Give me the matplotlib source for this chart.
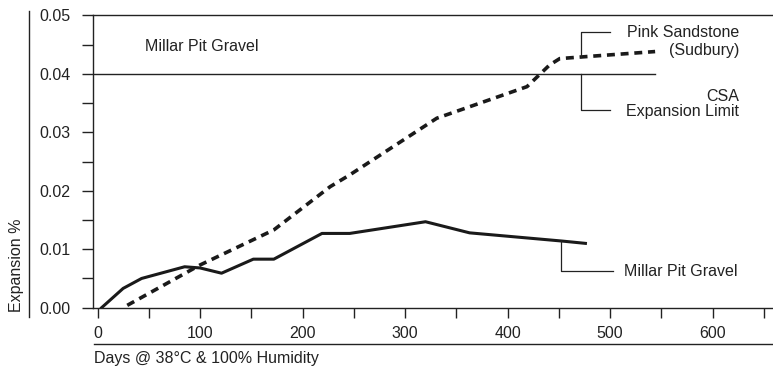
import numpy as np
import matplotlib
matplotlib.use("Agg")
import matplotlib.pyplot as plt
from matplotlib.lines import Line2D

plt.rcParams['font.family'] = ['Liberation Sans', 'DejaVu Sans']

# Data
millar_days = [4, 25, 43, 85, 100, 121, 152, 172, 219, 246, 320, 363, 453, 476]
millar_exp = [0.0, 0.0033, 0.0050, 0.0070, 0.0068, 0.0059, 0.0083, 0.0083, 0.0127, 0.0127, 0.0147, 0.0128, 0.0114, 0.0110]

pink_days = [29, 100, 172, 227, 246, 331, 419, 441, 451, 474, 544]
pink_exp = [0.0004, 0.0073, 0.0133, 0.0207, 0.0227, 0.0324, 0.0378, 0.0415, 0.0426, 0.0429, 0.0438]

csa_limit = 0.04
csa_end_day = 544

x_major = [0, 100, 200, 300, 400, 500, 600]
x_labels = ['0', '100', '200', '300', '400', '500', '600']
y_major = [0.00, 0.01, 0.02, 0.03, 0.04, 0.05]
y_labels = ['0.00', '0.01', '0.02', '0.03', '0.04', '0.05']

W, H = 773, 366
fig = plt.figure(figsize=(W / 100, H / 100), dpi=100)
ax = fig.add_axes([93 / W, (H - 307.7) / H, (W - 93) / W, (307.7 - 15.3) / H])

fs = 11.5
ax.plot(millar_days, millar_exp, color='#1a1a1a', lw=2.2, solid_joinstyle='round')
ax.plot(pink_days, pink_exp, color='#1a1a1a', lw=2.6, dashes=(2.2, 1.6))
ax.plot([-4.4, csa_end_day], [csa_limit, csa_limit], color='#222222', lw=1.0)

ax.set_xlim(-4.4, 659)
ax.set_ylim(0, 0.05)
ax.set_xticks(x_major)
ax.set_xticklabels(x_labels, fontsize=fs)
ax.set_xticks(np.arange(50, 660, 100), minor=True)
ax.set_yticks(y_major)
ax.set_yticklabels(y_labels, fontsize=fs)
ax.set_yticks(np.arange(0.005, 0.05, 0.01), minor=True)
ax.tick_params(axis='y', which='both', direction='out', length=8, width=1.0, pad=8, colors='#222222')
ax.tick_params(axis='x', which='both', direction='out', length=7, width=1.0, pad=6, colors='#222222')
ax.spines['right'].set_visible(False)
for s in ['left', 'top', 'bottom']:
    ax.spines[s].set_linewidth(1.0)
    ax.spines[s].set_color('#222222')

# Annotations
ax.text(46, 0.0446, 'Millar Pit Gravel', fontsize=fs, ha='left', va='center', color='#222222')

# Pink sandstone bracket
bx = 472
by0 = np.interp(bx, pink_days, pink_exp)
ax.plot([bx, bx, 500], [by0, 0.0472, 0.0472], color='#222222', lw=0.9)
ax.text(626, 0.0471, 'Pink Sandstone', fontsize=fs, ha='right', va='center', color='#222222')
ax.text(626, 0.0440, '(Sudbury)', fontsize=fs, ha='right', va='center', color='#222222')

# CSA bracket
ax.plot([bx, bx, 500], [csa_limit, 0.0338, 0.0338], color='#222222', lw=0.9)
ax.text(626, 0.0361, 'CSA', fontsize=fs, ha='right', va='center', color='#222222')
ax.text(626, 0.0335, 'Expansion Limit', fontsize=fs, ha='right', va='center', color='#222222')

# Millar bracket
mx = 452
my0 = np.interp(mx, millar_days, millar_exp)
ax.plot([mx, mx, 503], [my0, 0.0063, 0.0063], color='#222222', lw=0.9)
ax.text(514, 0.0062, 'Millar Pit Gravel', fontsize=fs, ha='left', va='center', color='#222222')

# Separator lines and axis titles
fig.add_artist(Line2D([29 / W, 29 / W], [1 - 11 / H, 1 - 317 / H], transform=fig.transFigure, color='#222222', lw=1.0))
fig.add_artist(Line2D([94 / W, 1.0], [1 - 344 / H, 1 - 344 / H], transform=fig.transFigure, color='#222222', lw=1.0))
fig.text(17 / W, 1 - 265 / H, 'Expansion %', rotation=90, fontsize=fs, ha='center', va='center', color='#222222')
fig.text(94 / W, 1 - 358 / H, 'Days @ 38°C & 100% Humidity', fontsize=fs, ha='left', va='center', color='#222222')

fig.savefig('out.png', dpi=100)
